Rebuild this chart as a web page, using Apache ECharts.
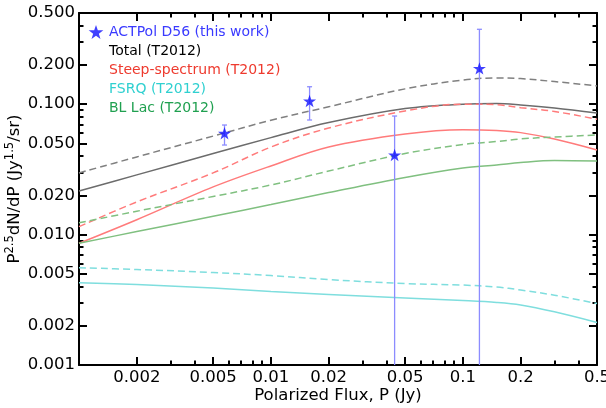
<!DOCTYPE html>
<html>
<head>
<meta charset="utf-8">
<script src="https://cdn.jsdelivr.net/npm/echarts@6/dist/echarts.min.js"></script>
<style>html,body{margin:0;padding:0;background:#fff}#c{width:606px;height:408px}</style>
</head>
<body>
<div id="c"></div>
<script>
// ---- data ----
const modelX = [0.001, 0.002, 0.005, 0.01, 0.02, 0.05, 0.1, 0.15, 0.2, 0.3, 0.5];
const totalDashed = [0.0297, 0.0394, 0.0569, 0.0753, 0.0955, 0.131, 0.153, 0.159, 0.157, 0.149, 0.138];
const totalSolid  = [0.0216, 0.0287, 0.0418, 0.0554, 0.0723, 0.0926, 0.100, 0.101, 0.0985, 0.0934, 0.0855];
const steepDashed = [0.0115, 0.0178, 0.0297, 0.0469, 0.0656, 0.0886, 0.100, 0.099, 0.094, 0.0879, 0.0766];
const steepSolid  = [0.00857, 0.0130, 0.0232, 0.0336, 0.0469, 0.0590, 0.0636, 0.0628, 0.0605, 0.0540, 0.0445];
const fsrqDashed  = [0.00557, 0.00540, 0.00512, 0.00485, 0.00452, 0.00421, 0.00410, 0.00396, 0.00376, 0.00343, 0.00296];
const fsrqSolid   = [0.00428, 0.00414, 0.00389, 0.00366, 0.00347, 0.00326, 0.00312, 0.00302, 0.00289, 0.00256, 0.00212];
const blDashed    = [0.0123, 0.0151, 0.0196, 0.0240, 0.0307, 0.0418, 0.0490, 0.0517, 0.0541, 0.0560, 0.0580];
const blSolid     = [0.00857, 0.01055, 0.01382, 0.0170, 0.0210, 0.0274, 0.0324, 0.0342, 0.0357, 0.0370, 0.0366];

const actX    = [0.00573, 0.0159, 0.0441, 0.122];
const actY    = [0.0598, 0.1057, 0.0407, 0.188];
const actLow  = [0.0486, 0.0756, null, null];   // null: error bar extends below the axis
const actHigh = [0.0692, 0.136, 0.0811, 0.375];

const xMajor = [0.001, 0.002, 0.005, 0.01, 0.02, 0.05, 0.1, 0.2, 0.5];
const xMinor = [0.003, 0.004, 0.006, 0.007, 0.008, 0.009, 0.03, 0.04, 0.06, 0.07, 0.08, 0.09, 0.3, 0.4];
const xTickLabels = [0.002, 0.005, 0.01, 0.02, 0.05, 0.1, 0.2, 0.5];
const yMajor = [0.001, 0.002, 0.005, 0.01, 0.02, 0.05, 0.1, 0.2, 0.5];
const yMinor = [0.003, 0.004, 0.006, 0.007, 0.008, 0.009, 0.03, 0.04, 0.06, 0.07, 0.08, 0.09, 0.3, 0.4];
const yTickLabels = [0.001, 0.002, 0.005, 0.01, 0.02, 0.05, 0.1, 0.2, 0.5];

const names = {
  act: 'ACTPol D56 (this work)',
  total: 'Total (T2012)',
  steep: 'Steep-spectrum (T2012)',
  fsrq: 'FSRQ (T2012)',
  bl: 'BL Lac (T2012)'
};

// ---- chart ----
const STAR = 'path://M50,0 L61.8,35.1 L98.1,35.1 L68.8,56.7 L79.4,91.9 L50,70 L20.6,91.9 L31.2,56.7 L1.9,35.1 L38.2,35.1 Z';
const FONT = 'DejaVu Sans';
const LABEL_SIZE = 16.5;
const xMin = 0.001, xMax = 0.5, yMin = 0.001, yMax = 0.5;

function pairs(ys) { return modelX.map((x, i) => [x, ys[i]]); }

function axisBase(type, pos) {
  return {
    type: 'log', logBase: 10, position: pos,
    min: type === 'x' ? xMin : yMin, max: type === 'x' ? xMax : yMax,
    splitLine: { show: false }, minorTick: { show: false },
    axisLine: { show: true, onZero: false, lineStyle: { color: '#000', width: 2 } },
    axisLabel: { show: false },
    axisTick: { show: true, inside: true, length: 8, lineStyle: { color: '#000', width: 2 } }
  };
}

const xAxes = [];
{
  const a = axisBase('x', 'bottom');
  a.axisTick.customValues = xMajor;
  a.axisLabel = {
    show: true, customValues: xTickLabels, margin: 4,
    fontFamily: FONT, fontSize: LABEL_SIZE, color: '#000',
    formatter: v => String(+v.toPrecision(3))
  };
  a.name = 'Polarized Flux, P (Jy)';
  a.nameLocation = 'middle';
  a.nameGap = 22;
  a.nameMoveOverlap = false;
  a.nameTextStyle = { fontFamily: FONT, fontSize: LABEL_SIZE, color: '#000' };
  xAxes.push(a);
  const b = axisBase('x', 'bottom');
  b.axisTick.customValues = xMinor; b.axisTick.length = 4.5; b.axisLine.show = false;
  xAxes.push(b);
  const c = axisBase('x', 'top');
  c.axisTick.customValues = xMajor;
  xAxes.push(c);
  const d = axisBase('x', 'top');
  d.axisTick.customValues = xMinor; d.axisTick.length = 4.5; d.axisLine.show = false;
  xAxes.push(d);
}
const yAxes = [];
{
  const a = axisBase('y', 'left');
  a.axisTick.customValues = yMajor;
  a.axisLabel = {
    show: true, customValues: yTickLabels, margin: 4,
    fontFamily: FONT, fontSize: LABEL_SIZE, color: '#000',
    formatter: v => (+v).toFixed(3)
  };
  a.name = '{a|P}{s|2.5}{a|dN/dP (Jy}{s|1.5}{a|/sr)}';
  a.nameLocation = 'middle';
  a.nameGap = 54;
  a.nameMoveOverlap = false;
  a.nameRotate = 90;
  a.nameTextStyle = {
    rich: {
      a: { fontFamily: FONT, fontSize: LABEL_SIZE, color: '#000', lineHeight: 20 },
      s: { fontFamily: FONT, fontSize: 11.5, color: '#000', lineHeight: 20, padding: [0, 0, 9, 0] }
    }
  };
  yAxes.push(a);
  const b = axisBase('y', 'left');
  b.axisTick.customValues = yMinor; b.axisTick.length = 4.5; b.axisLine.show = false;
  yAxes.push(b);
  const c = axisBase('y', 'right');
  c.axisTick.customValues = yMajor;
  yAxes.push(c);
  const d = axisBase('y', 'right');
  d.axisTick.customValues = yMinor; d.axisTick.length = 4.5; d.axisLine.show = false;
  yAxes.push(d);
}

function lineSeries(name, ys, color, dashed) {
  return {
    name, type: 'line', data: pairs(ys), smooth: 0.35, symbol: 'none',
    lineStyle: { color, width: 1.5, type: dashed ? [7, 4] : 'solid' },
    itemStyle: { color }, silent: true, z: 2
  };
}

const option = {
  animation: false,
  backgroundColor: '#fff',
  grid: { left: 79, right: 9, top: 13, bottom: 43, containLabel: false, outerBoundsMode: 'none' },
  xAxis: xAxes,
  yAxis: yAxes,
  legend: {
    orient: 'vertical', left: 88, top: 25, padding: 0,
    itemWidth: 16, itemHeight: 14, itemGap: 5,
    selectedMode: false,
    textStyle: { fontFamily: 'DejaVu Sans', fontSize: 14 },
    data: [
      { name: names.act, icon: STAR, itemStyle: { color: '#1010ff' }, textStyle: { color: '#3a3aff' } },
      { name: names.total, icon: 'none', textStyle: { color: '#000' } },
      { name: names.steep, icon: 'none', textStyle: { color: '#ee3a2e' } },
      { name: names.fsrq, icon: 'none', textStyle: { color: '#2fd0d0' } },
      { name: names.bl, icon: 'none', textStyle: { color: '#20a050' } }
    ]
  },
  series: [
    lineSeries(names.total, totalDashed, '#808080', true),
    lineSeries(names.total, totalSolid, '#6c6c6c', false),
    lineSeries(names.steep, steepDashed, '#ff7b7b', true),
    lineSeries(names.steep, steepSolid, '#ff7b7b', false),
    lineSeries(names.fsrq, fsrqDashed, '#7fdede', true),
    lineSeries(names.fsrq, fsrqSolid, '#7fdede', false),
    lineSeries(names.bl, blDashed, '#80c080', true),
    lineSeries(names.bl, blSolid, '#80c080', false),
    {
      name: names.act + ' err', type: 'custom', silent: true, z: 3,
      data: actX.map((x, i) => [x, actY[i]]),
      renderItem: function (params, api) {
        const i = params.dataIndex;
        const x = api.value(0);
        const top = api.coord([x, actHigh[i]]);
        const cs = params.coordSys;
        const bot = actLow[i] != null ? api.coord([x, actLow[i]]) : [top[0], cs.y + cs.height];
        const st = { stroke: '#8c8cff', lineWidth: 1.3 };
        const children = [
          { type: 'line', shape: { x1: top[0], y1: top[1], x2: bot[0], y2: bot[1] }, style: st },
          { type: 'line', shape: { x1: top[0] - 2.5, y1: top[1], x2: top[0] + 2.5, y2: top[1] }, style: st }
        ];
        if (actLow[i] != null) {
          children.push({ type: 'line', shape: { x1: bot[0] - 2.5, y1: bot[1], x2: bot[0] + 2.5, y2: bot[1] }, style: st });
        }
        return { type: 'group', children };
      }
    },
    {
      name: names.act, type: 'scatter', z: 5, silent: true,
      data: actX.map((x, i) => [x, actY[i]]),
      symbol: STAR, symbolSize: 13, symbolKeepAspect: true,
      itemStyle: { color: '#1010ff' }
    }
  ]
};

const chart = echarts.init(document.getElementById('c'), null, { renderer: 'canvas' });
chart.setOption(option);
</script>
</body>
</html>
